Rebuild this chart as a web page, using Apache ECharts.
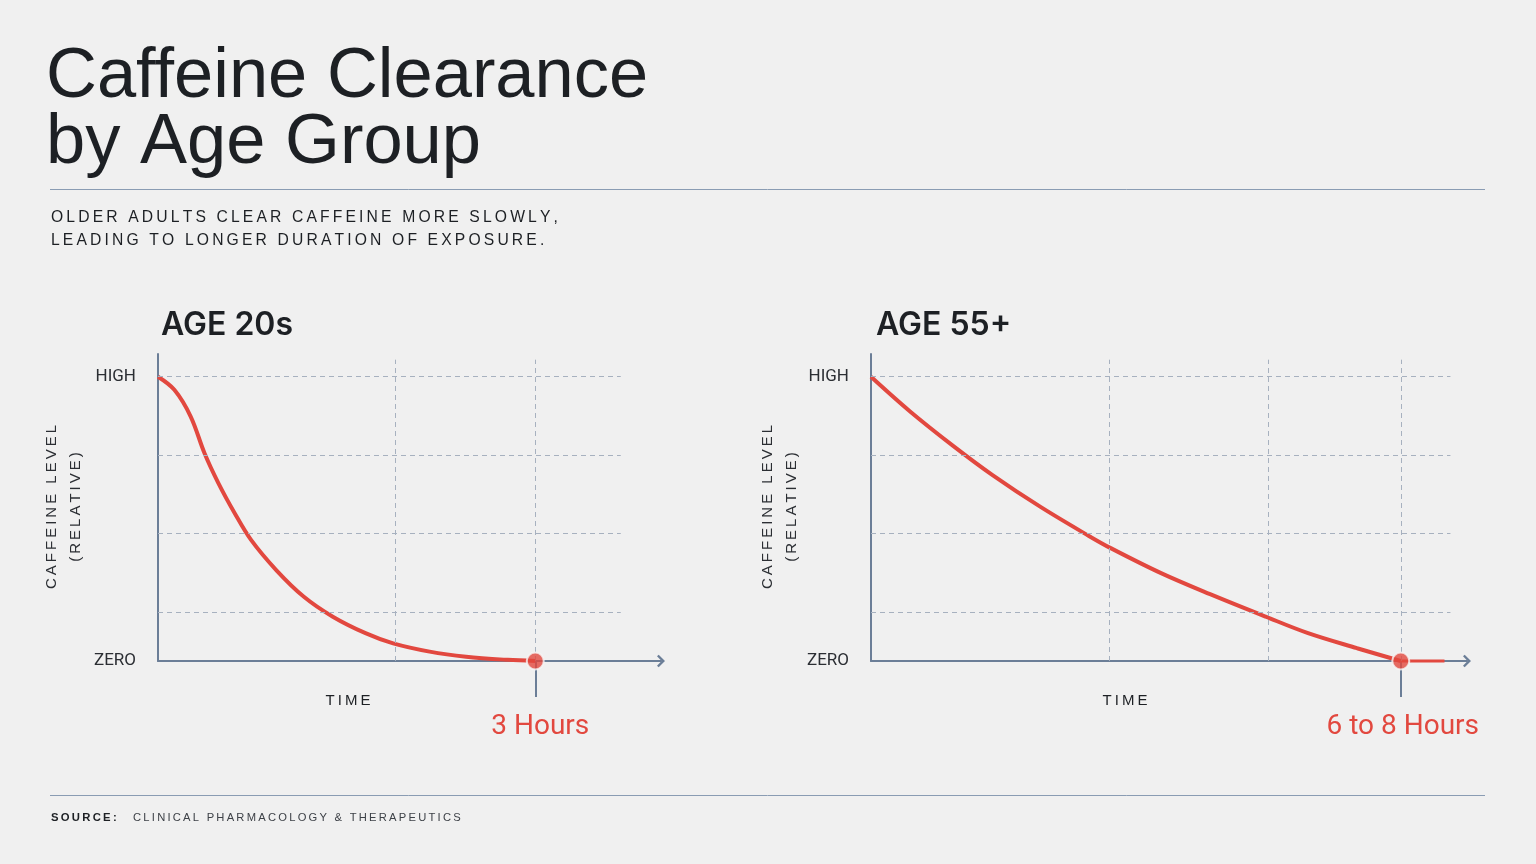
<!DOCTYPE html>
<html>
<head>
<meta charset="utf-8">
<script src="https://cdn.jsdelivr.net/npm/echarts@6/dist/echarts.min.js"></script>
<style>
  html, body { margin: 0; padding: 0; background: #f0f0f0; }
  #chart { width: 1536px; height: 864px; }
</style>
</head>
<body>
<div id="chart"></div>
<script>
// hours after intake vs relative caffeine level (1 = high, 0 = zero)
const youngHours = [0, 0.13, 0.26, 0.37, 0.48, 0.61, 0.74, 0.94, 1.16, 1.39, 1.65, 1.87, 2.16, 2.45, 2.78, 3];
const youngLevel = [1, 0.954, 0.86, 0.731, 0.626, 0.52, 0.426, 0.32, 0.226, 0.156, 0.098, 0.062, 0.033, 0.015, 0.004, 0];
const olderHours = [0, 0.59, 1.24, 1.83, 2.56, 3.29, 3.62, 4.38, 5.12, 5.96, 6.6, 7.34, 8];
const olderLevel = [1, 0.878, 0.757, 0.655, 0.542, 0.44, 0.397, 0.309, 0.235, 0.156, 0.098, 0.045, 0];
const olderTail = [8, 8.66];

const levelTicks = [0, 1];
const levelNames = ['ZERO', 'HIGH'];
const levelGrid = [0.17, 0.45, 0.725, 1];
const youngTimeGrid = [1.89, 3];
const olderTimeGrid = [3.6, 6, 8];
const youngClear = 3;
const olderClear = 8;
const youngLabel = '3 Hours';
const olderLabel = '6 to 8 Hours';

const red = '#e2483f';
const axisColor = '#6b7e97';
const gridColor = '#a7b1bf';
const ruleColor = '#8a9cb3';
const ink = '#1d2024';
const chevron = 'path://M0,6 L6,0 L12,6 L10.4,7.6 L6,3.2 L1.6,7.6 Z';

// fake letter spacing with thin spaces
function track(s) { return s.split('').join('\u2009'); }

function zip(xs, ys) { return xs.map((x, i) => [x, ys[i]]); }

function gridLines(xEnd, timeGrid) {
  return levelGrid.map(v => [{ coord: [0, v] }, { coord: [xEnd, v] }])
    .concat(timeGrid.map(t => [{ coord: [t, 0] }, { coord: [t, 1.06] }]));
}

function xAxisFor(idx, max, clear, label, pad) {
  return {
    gridIndex: idx, type: 'value', min: 0, max: max,
    axisLine: { show: true, onZero: false, symbol: ['none', chevron], symbolSize: [13, 8],
      lineStyle: { color: axisColor, width: 2 } },
    axisTick: { show: true, customValues: [clear], length: 36, lineStyle: { color: axisColor, width: 2 } },
    axisLabel: { show: true, customValues: [clear], formatter: () => label, color: red,
      fontSize: 28, fontFamily: 'Roboto', margin: 52, padding: [0, 0, 0, pad] },
    splitLine: { show: false }
  };
}

function yAxisFor(idx) {
  return {
    gridIndex: idx, type: 'value', min: 0, max: 1.08,
    axisLine: { show: true, lineStyle: { color: axisColor, width: 2 } },
    axisTick: { show: false },
    axisLabel: { customValues: levelTicks, formatter: v => levelNames[levelTicks.indexOf(v)],
      color: '#2b2e33', fontSize: 17, fontFamily: 'Roboto', margin: 22, padding: [0, 0, 12, 0] },
    splitLine: { show: false }
  };
}

function gridSeries(idx, xEnd, timeGrid) {
  return {
    type: 'line', xAxisIndex: idx, yAxisIndex: idx, data: [], z: 1, silent: true,
    markLine: { silent: true, symbol: 'none', animation: false, label: { show: false },
      lineStyle: { color: gridColor, type: [5, 4], width: 1 },
      emphasis: { disabled: true },
      data: gridLines(xEnd, timeGrid) }
  };
}

function curveSeries(idx, data, width) {
  return {
    type: 'line', xAxisIndex: idx, yAxisIndex: idx, data: data, smooth: 0.35,
    showSymbol: false, clip: false, z: 3, silent: true,
    lineStyle: { color: red, width: width }
  };
}

function dotSeries(idx, x) {
  return {
    type: 'scatter', xAxisIndex: idx, yAxisIndex: idx, data: [[x, 0]], symbolSize: 17,
    clip: false, z: 5, silent: true,
    itemStyle: { color: red, borderColor: '#f6f6f6', borderWidth: 2 }
  };
}

function txt(x, y, text, font, fill, align, rotation) {
  return { type: 'text', x: x, y: y, silent: true, rotation: rotation || 0,
    style: { text: text, font: font, fill: fill, align: align || 'left', verticalAlign: 'middle' } };
}

const smallFont = '15px "Liberation Sans"';
const subFont = '15.7px "Liberation Sans"';
const up = Math.PI / 2;

const chart = echarts.init(document.getElementById('chart'));
chart.setOption({
  backgroundColor: '#f0f0f0',
  animation: false,
  grid: [
    { left: 158, top: 354, width: 503, height: 307 },
    { left: 871, top: 354, width: 596, height: 307 }
  ],
  xAxis: [xAxisFor(0, 4, youngClear, youngLabel, 10), xAxisFor(1, 9, olderClear, olderLabel, 4)],
  yAxis: [yAxisFor(0), yAxisFor(1)],
  series: [
    gridSeries(0, 3.68, youngTimeGrid),
    gridSeries(1, 8.75, olderTimeGrid),
    curveSeries(0, zip(youngHours, youngLevel), 4),
    curveSeries(1, zip(olderHours, olderLevel), 4),
    curveSeries(1, olderTail.map(h => [h, 0]), 3),
    dotSeries(0, youngClear),
    dotSeries(1, olderClear)
  ],
  graphic: [
    txt(46, 78, 'Caffeine Clearance', '70.5px "Liberation Sans"', ink),
    txt(46, 144, 'by Age Group', '70.5px "Liberation Sans"', ink),
    { type: 'line', silent: true, shape: { x1: 50, y1: 189.5, x2: 1485, y2: 189.5 },
      style: { stroke: ruleColor, lineWidth: 1 } },
    txt(51, 218, track('OLDER ADULTS CLEAR CAFFEINE MORE SLOWLY,'), subFont, ink),
    txt(51, 241, track('LEADING TO LONGER DURATION OF EXPOSURE.'), subFont, ink),
    txt(161, 325, 'AGE 20s', '600 32px Inter', ink),
    txt(876, 325, 'AGE 55+', '600 32px Inter', ink),
    txt(52, 507, track('CAFFEINE LEVEL'), smallFont, '#2b2e33', 'center', up),
    txt(76, 507, track('(RELATIVE)'), smallFont, '#2b2e33', 'center', up),
    txt(768, 507, track('CAFFEINE LEVEL'), smallFont, '#2b2e33', 'center', up),
    txt(792, 507, track('(RELATIVE)'), smallFont, '#2b2e33', 'center', up),
    txt(348, 701, track('TIME'), smallFont, ink, 'center'),
    txt(1125, 701, track('TIME'), smallFont, ink, 'center'),
    { type: 'line', silent: true, shape: { x1: 50, y1: 795.5, x2: 1485, y2: 795.5 },
      style: { stroke: ruleColor, lineWidth: 1 } },
    txt(51, 818, track('SOURCE:'), 'bold 11.3px "Liberation Sans"', ink),
    txt(133, 818, track('CLINICAL PHARMACOLOGY & THERAPEUTICS'), '11.2px "Liberation Sans"', '#3d4147')
  ]
});
</script>
</body>
</html>
